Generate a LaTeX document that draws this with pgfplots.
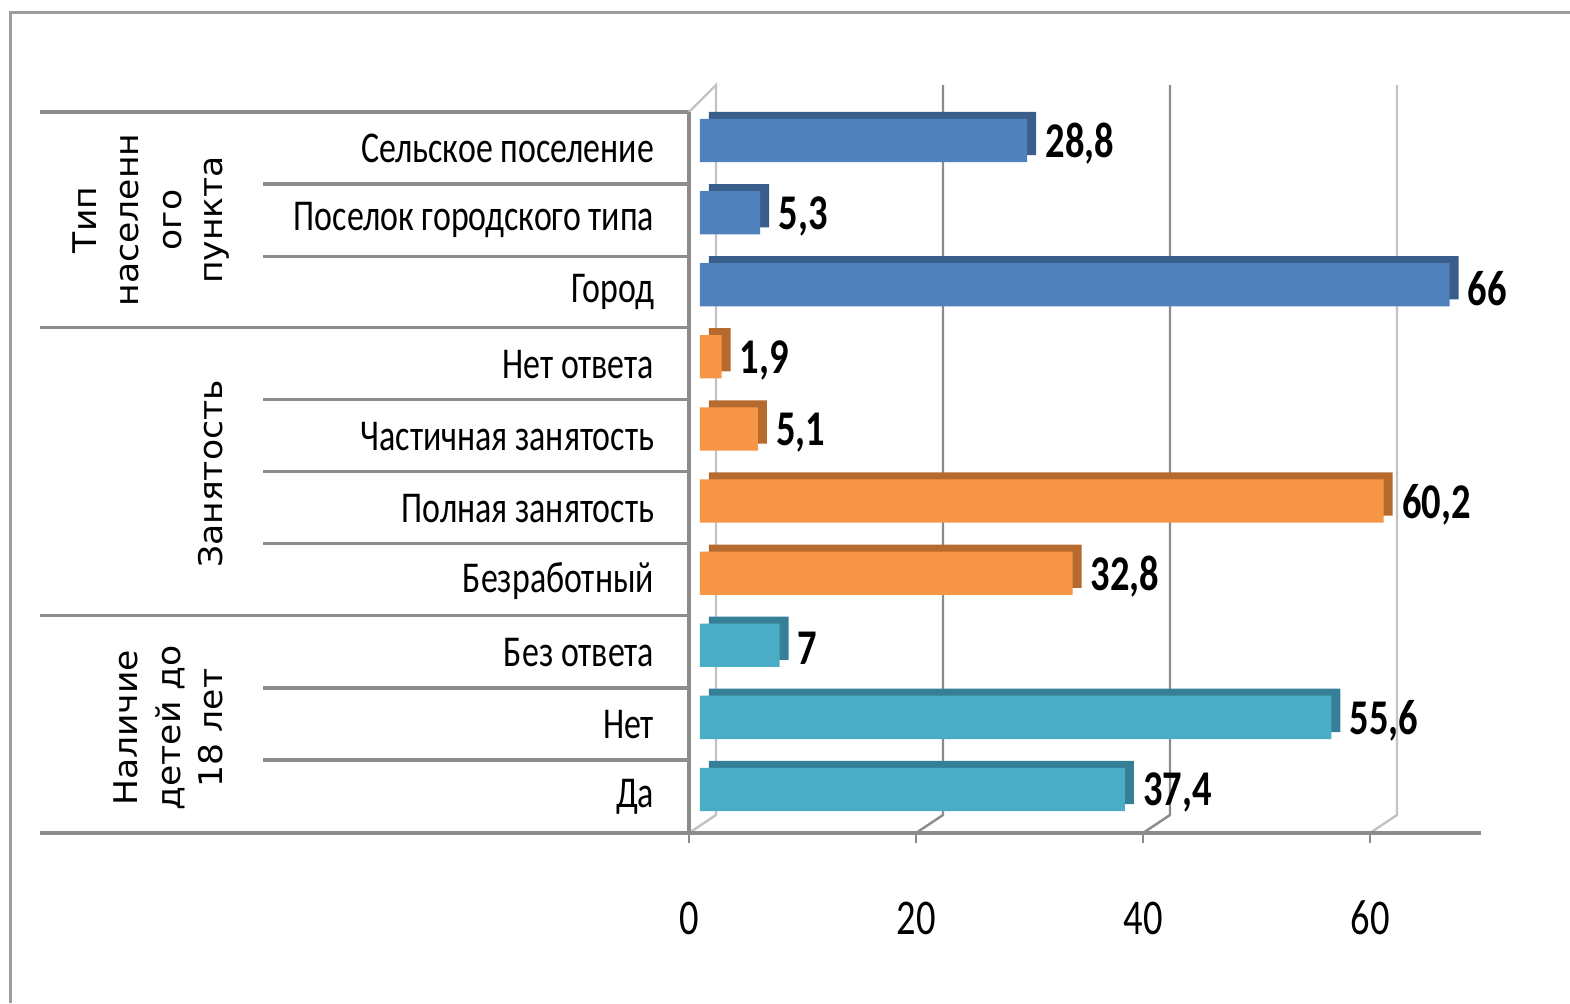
\documentclass[border=0pt]{standalone}
\usepackage{pgfplots}
\pgfplotsset{compat=1.18}
\usepackage{fontspec}
\setmainfont{Carlito}[FakeStretch=0.77]
\newfontfamily\grpfont{DejaVu Sans}[FakeStretch=1.06]
\definecolor{bluef}{RGB}{79,129,189}
\definecolor{blued}{RGB}{57,94,140}
\definecolor{orf}{RGB}{247,150,70}
\definecolor{ord}{RGB}{182,106,45}
\definecolor{tlf}{RGB}{75,172,198}
\definecolor{tld}{RGB}{53,128,150}
\definecolor{ln}{RGB}{140,140,140}
\definecolor{lgt}{RGB}{195,195,195}
\newcommand\catfont{\fontsize{22}{26}\selectfont}
\newcommand\tickfont{\fontsize{25}{30}\selectfont}
\newcommand\valfont{\bfseries\fontsize{25}{30}\selectfont}
\newcommand\grp{\grpfont\fontsize{16.3}{20}\selectfont}

\pgfplotstableread{
v c l
28.8 0 28,8
5.3 1 5,3
66 2 66
}\tabA
\pgfplotstableread{
v c l
1.9 3 1,9
5.1 4 5,1
60.2 5 60,2
32.8 6 32,8
}\tabB
\pgfplotstableread{
v c l
7 7 7
55.6 8 55,6
37.4 9 37,4
}\tabC

\begin{document}
\begin{tikzpicture}
\begin{scope}[x=0.5pt,y=-0.5pt]
\path[use as bounding box] (0,0) rectangle (1570,1003);
\draw[ln!85, line width=1.5pt] (10,1003) -- (10,12) -- (1570,12);
\foreach \yy in {112,327.3,615.7,833} \draw[ln,line width=1.7pt] (40,\yy) -- (689,\yy);
\foreach \yy in {184.1,256.2,399.4,471.5,543.6,687.8,759.9} \draw[ln,line width=1.7pt] (263,\yy) -- (689,\yy);
\draw[lgt, line width=1.2pt] (689,833) -- (716,815) -- (716,85) -- (689,112);
\foreach \f/\c in {916/ln,1143/ln,1370/lgt} \draw[\c, line width=1.2pt] (\f,833) -- (\f+27,815) -- (\f+27,85);
\draw[ln, line width=1.8pt] (689,112) -- (689,835);
\draw[ln, line width=2pt] (687,833) -- (1481,833);
\foreach \f in {689,916,1143,1370} \draw[ln,line width=0.8pt] (\f,833) -- (\f,843);
\node[rotate=90,anchor=base,inner sep=0pt,font=\grp] at (96,220) {Тип};
\node[rotate=90,anchor=base,inner sep=0pt,font=\grp] at (138,220) {населенн};
\node[rotate=90,anchor=base,inner sep=0pt,font=\grp] at (181,220) {ого};
\node[rotate=90,anchor=base,inner sep=0pt,font=\grp] at (222,220) {пункта};
\node[rotate=90,anchor=base,inner sep=0pt,font=\grp] at (222,474) {Занятость};
\node[rotate=90,anchor=base,inner sep=0pt,font=\grp] at (137,728) {Наличие};
\node[rotate=90,anchor=base,inner sep=0pt,font=\grp] at (180,728) {детей до};
\node[rotate=90,anchor=base,inner sep=0pt,font=\grp] at (222,728) {18 лет};
\end{scope}
\begin{axis}[
  at={(344.5pt,-416.5pt)}, anchor=south west,
  scale only axis, width=397.5pt, height=360.5pt,
  xmin=0, xmax=70, ymin=-0.5, ymax=9.5, y dir=reverse,
  axis line style={draw=none},
  tick style={draw=none},
  xtick={0,20,40,60}, xticklabels={0,20,40,60},
  /pgf/number format/assume math mode=true,
  xticklabel style={font=\tickfont, anchor=center, yshift=-42.5pt},
  ytick={0,...,9},
  yticklabels={Сельское поселение, Поселок городского типа, Город, Нет ответа, Частичная занятость, Полная занятость, Безработный, Без ответа, Нет, Да},
  yticklabel style={font=\catfont, anchor=east, inner sep=0pt, xshift=-13pt},
  xbar, bar width=0.6, bar shift=-0.104,
  clip=false,
  point meta=explicit symbolic,
  nodes near coords,
  every node near coord/.append style={anchor=west, font=\valfont, inner sep=0pt, xshift=9pt, yshift=-1.75pt, text=black},
  every axis plot/.append style={xshift=5.5pt, draw=none},
]
\addplot[fill=bluef, preaction={fill=blued, transform canvas={xshift=4.5pt,yshift=3.5pt}}] table[x=v,y=c,meta=l] {\tabA};
\addplot[fill=orf, preaction={fill=ord, transform canvas={xshift=4.5pt,yshift=3.5pt}}] table[x=v,y=c,meta=l] {\tabB};
\addplot[fill=tlf, preaction={fill=tld, transform canvas={xshift=4.5pt,yshift=3.5pt}}] table[x=v,y=c,meta=l] {\tabC};
\end{axis}
\end{tikzpicture}
\end{document}
